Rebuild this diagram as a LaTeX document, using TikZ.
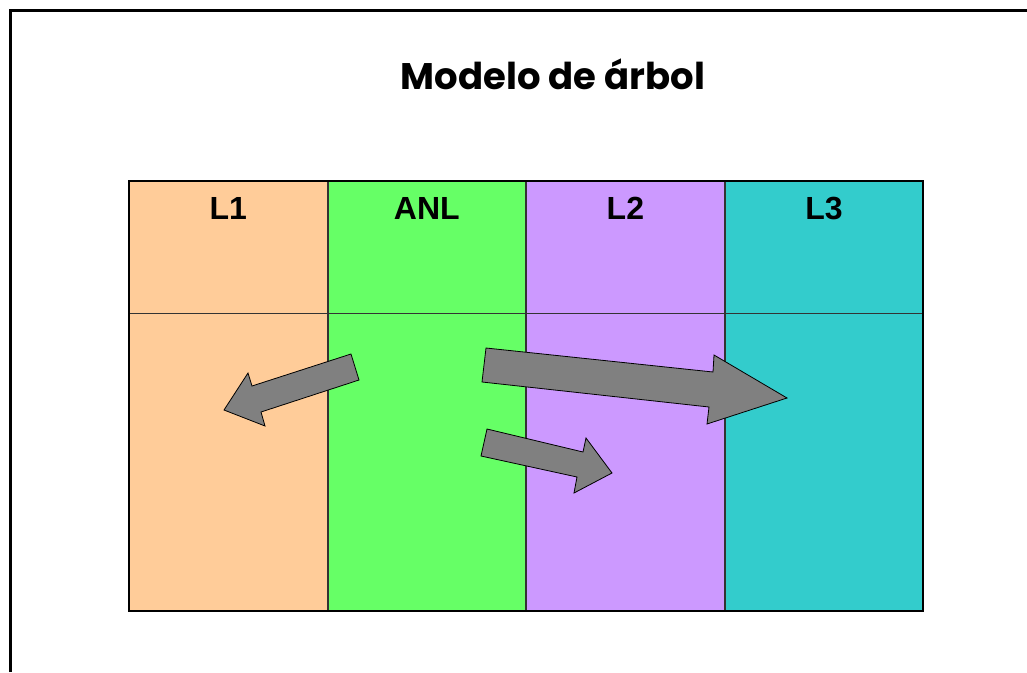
\documentclass[tikz,border=0pt]{standalone}
\usepackage{fontspec}
\setmainfont{Liberation Sans}
\newfontfamily\titlefont{Poppins}
\definecolor{peach}{HTML}{FFCC99}
\definecolor{lightgreen}{HTML}{66FF66}
\definecolor{lilac}{HTML}{CC99FF}
\definecolor{tealblue}{HTML}{33CCCC}
\usetikzlibrary{positioning}
\tikzstyle{col}=[draw=black!80, line width=.8pt, inner sep=0pt,
  minimum width=197.75pt, minimum height=429pt]
\tikzstyle{head}=[font=\bfseries\fontsize{32}{32}\selectfont, anchor=base,
  yshift=-38pt]
\tikzstyle{blockarrow}=[fill=black!50, draw=black, line width=.8pt,
  line join=miter]

\begin{document}
\begin{tikzpicture}[x=1pt, y=-1pt, node distance=0pt]
  \useasboundingbox (0,0) rectangle (1027,672);

  % page frame
  \draw[line width=3pt] (10,672) -- (10,10) -- (1027,10);
  \node[font=\titlefont\bfseries\fontsize{37}{37}\selectfont, anchor=base]
    (title) at (553,89) {Modelo de árbol};

  % columns
  \node[col, fill=peach, anchor=north west] (c1) at (129,181) {};
  \node[col, fill=lightgreen, right=of c1] (c2) {};
  \node[col, fill=lilac, right=of c2] (c3) {};
  \node[col, fill=tealblue, right=of c3] (c4) {};
  \draw[draw=black!80, line width=.8pt] (c1.west |- 0,313) -- (c4.east |- 0,313);
  \draw[line width=2pt] (c1.north west) rectangle (c4.south east);

  \node[head] (l1) at (c1.north) {L1};
  \node[head] (anl) at (c2.north) {ANL};
  \node[head] (l2) at (c3.north) {L2};
  \node[head] (l3) at (c4.north) {L3};

  % block arrows
  \draw[blockarrow] (351,354) -- (359,380) -- (261,412) -- (265,426)
    -- (224,410) -- (248,373) -- (252,386) -- cycle;
  \draw[blockarrow] (486,348) -- (713,372) -- (714,355) -- (787,398)
    -- (707,424) -- (709,407) -- (482,382) -- cycle;
  \draw[blockarrow] (487,429) -- (583,452) -- (586,438) -- (612,473)
    -- (574,493) -- (577,477) -- (481,456) -- cycle;

\end{tikzpicture}
\end{document}
